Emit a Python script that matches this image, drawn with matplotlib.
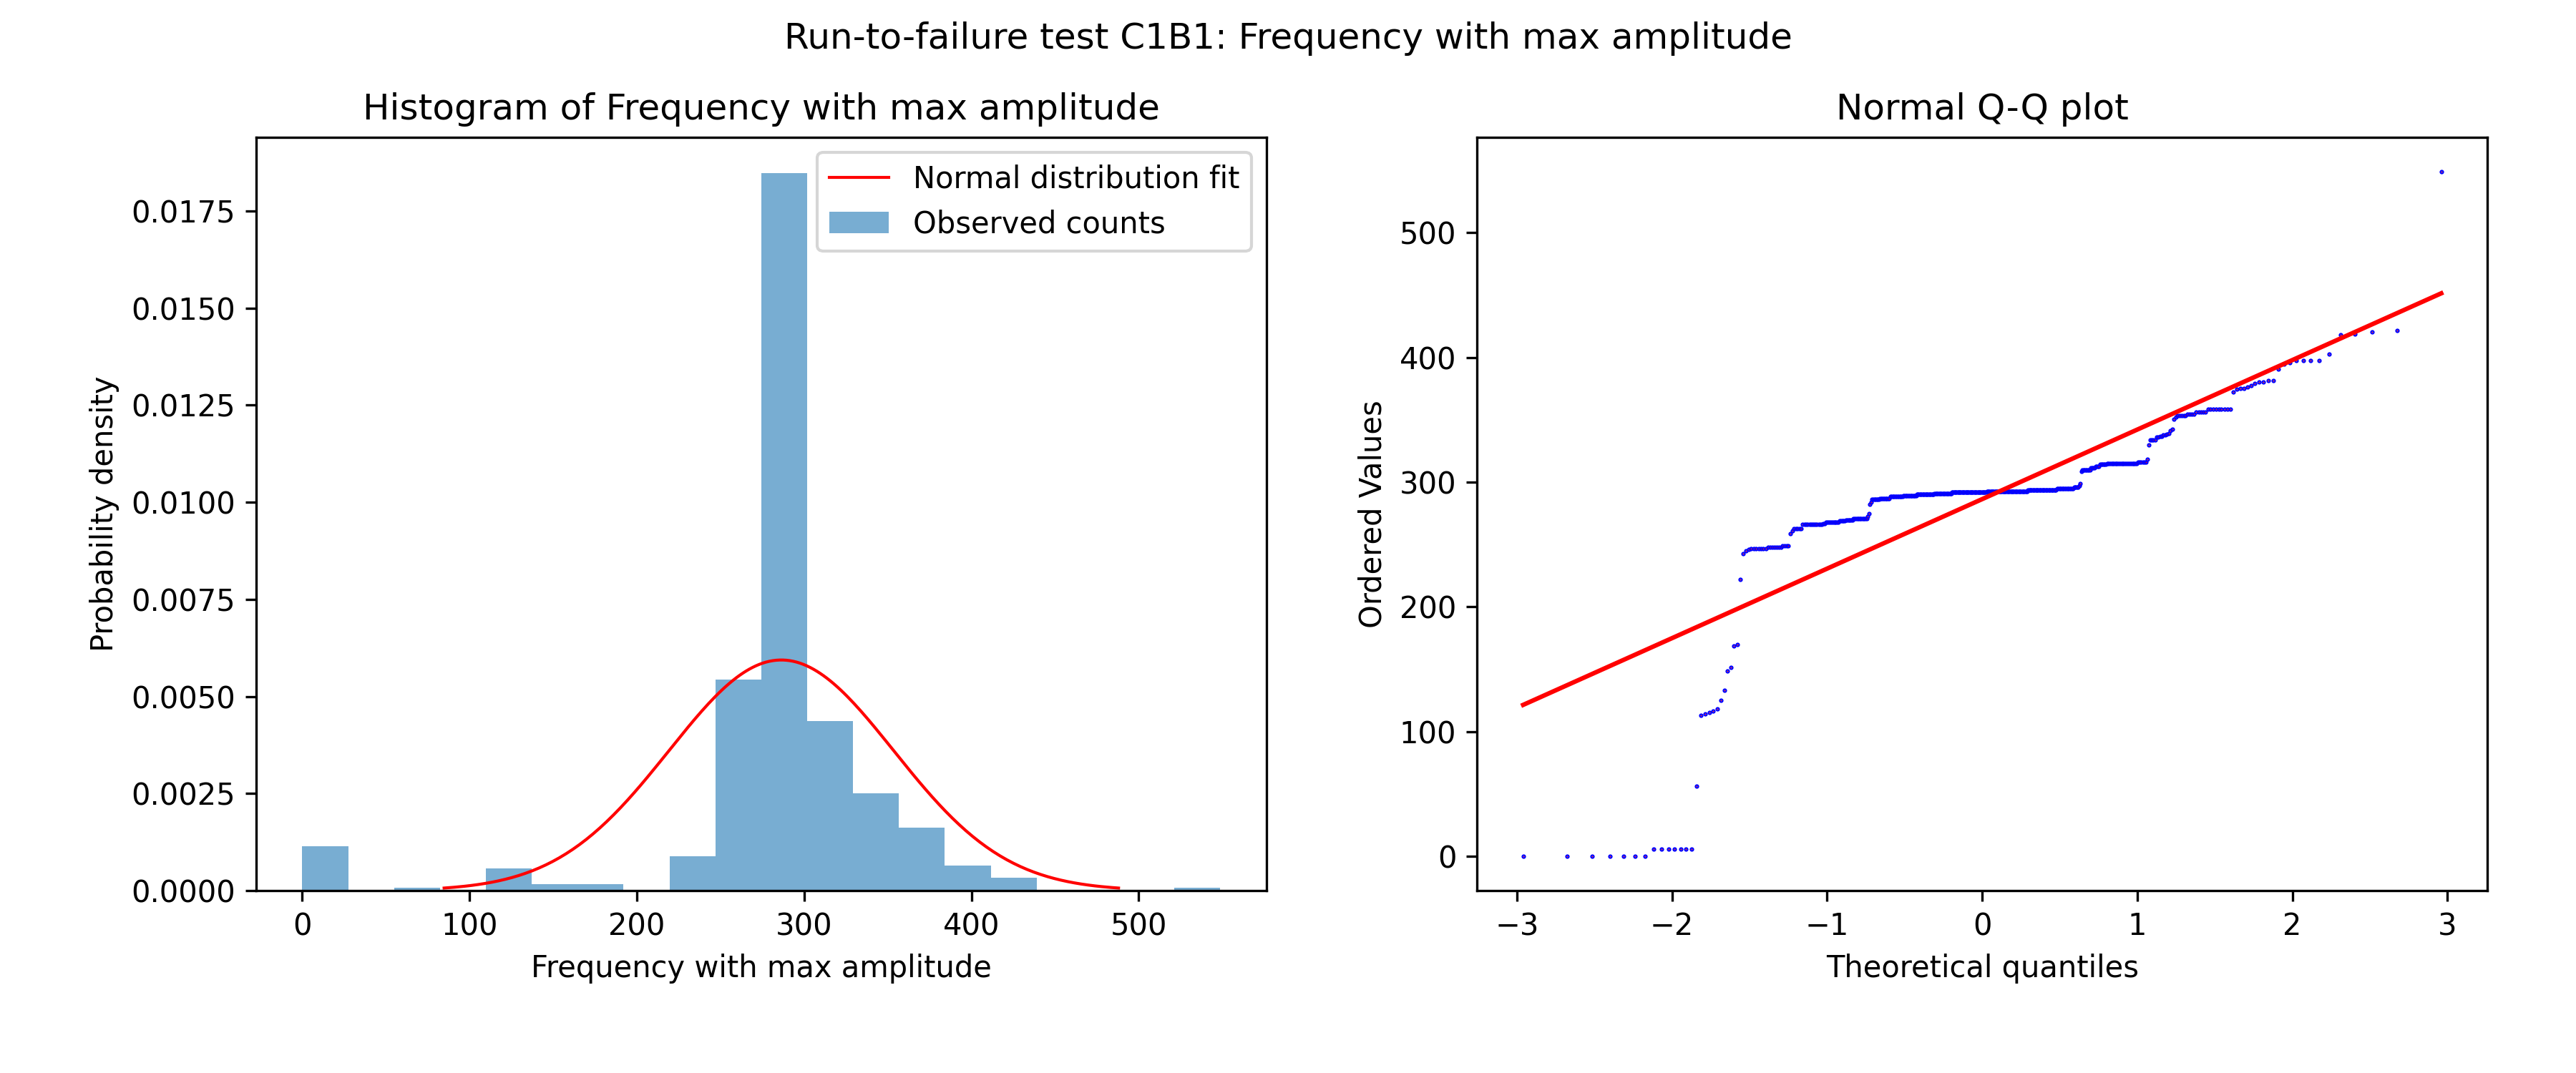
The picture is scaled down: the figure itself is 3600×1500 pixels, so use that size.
import numpy as np
import matplotlib
matplotlib.use("Agg")
import matplotlib.pyplot as plt
from statistics import NormalDist

# sorted sample as (value, how many times)
freq_values = [0.0, 5.7, 56.4,
               112.8, 113.9, 115.1, 116.4, 118.2, 124.9, 132.9, 148.4, 151.2, 168.5, 169.6, 221.8,
               242.4, 244.7, 245.9, 246.5, 247.6, 248.8, 258.5, 261.2, 262.5,
               266.0, 266.9, 267.9, 268.8, 269.8, 270.7, 272.5,
               274.8, 282.0, 284.1, 286.0, 287.0, 288.2, 289.3, 290.3, 291.0, 291.7,
               292.7, 293.6, 294.6, 295.9, 297.0, 298.8,
               308.8, 309.9, 311.2, 312.8, 314.1, 315.1, 316.2, 318.1,
               330.0, 334.0, 336.1, 336.9, 337.9, 338.4, 339.0, 341.0, 342.1,
               350.3, 351.9, 353.0, 354.2, 356.1,
               358.4, 372.0, 374.5, 374.9, 376.3, 377.4, 379.1, 380.1, 381.3,
               390.8, 394.5, 395.8, 397.4, 402.6,
               417.9, 418.5, 420.4, 421.5, 548.7]
freq_counts = [7, 7, 1,
               1, 1, 1, 1, 1, 1, 1, 1, 1, 1, 1, 1,
               1, 1, 1, 7, 7, 4, 1, 1, 5,
               13, 2, 10, 5, 6, 12, 1,
               1, 1, 1, 7, 10, 13, 14, 19, 20, 40,
               47, 31, 17, 5, 1, 1,
               1, 8, 4, 4, 6, 24, 6, 1,
               1, 4, 2, 2, 2, 1, 1, 1, 1,
               1, 1, 5, 4, 5,
               9, 1, 1, 2, 1, 1, 1, 2, 2,
               1, 1, 1, 4, 1,
               1, 1, 1, 1, 1]

data = np.repeat(freq_values, freq_counts)
n = len(data)

fig, (ax1, ax2) = plt.subplots(1, 2, figsize=(12, 5), dpi=300)
fig.subplots_adjust(left=0.0995, right=0.9655, bottom=0.17, top=0.8718, wspace=0.209)

# histogram + normal fit
_, _, bars = ax1.hist(data, bins=20, density=True, alpha=0.6, color='C0', label='Observed counts')
mu = data.mean()
sigma = data.std()
xs = np.linspace(mu - 3 * sigma, mu + 3 * sigma, 200)
pdf = np.exp(-0.5 * ((xs - mu) / sigma) ** 2) / (sigma * np.sqrt(2 * np.pi))
fit_line, = ax1.plot(xs, pdf, 'r-', lw=1, label='Normal distribution fit')
ax1.set_title('Histogram of Frequency with max amplitude')
ax1.set_xlabel('Frequency with max amplitude')
ax1.set_ylabel('Probability density')
ax1.legend(handles=[fit_line, bars[0]], loc='upper right')

# normal Q-Q plot (Filliben order statistic medians)
m = np.empty(n)
m[-1] = 0.5 ** (1.0 / n)
m[0] = 1 - m[-1]
i = np.arange(2, n)
m[1:-1] = (i - 0.3175) / (n + 0.365)
nd = NormalDist()
osm = np.array([nd.inv_cdf(p) for p in m])
osr = np.sort(data)
slope, intercept = np.polyfit(osm, osr, 1)
ax2.plot(osm, osr, 'o', ms=0.5, mew=1.0, mec='b', mfc='r')
ax2.plot(osm, slope * osm + intercept, 'r-', lw=1.5)
ax2.set_title('Normal Q-Q plot')
ax2.set_xlabel('Theoretical quantiles')
ax2.set_ylabel('Ordered Values')

fig.suptitle('Run-to-failure test C1B1: Frequency with max amplitude')
fig.savefig('out.png', dpi=300)
